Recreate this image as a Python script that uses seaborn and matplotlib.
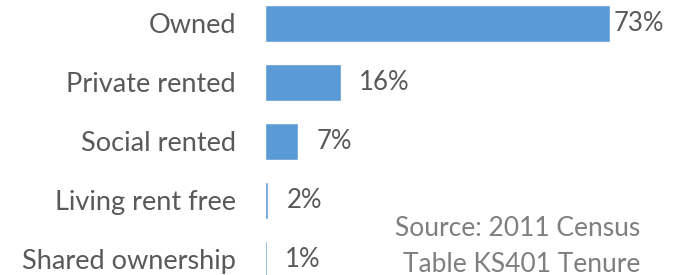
import numpy as np
import pandas as pd
import matplotlib.pyplot as plt
import seaborn as sns

# Tenure shares (bar lengths; labels as printed)
tenure = ["Owned", "Private rented", "Social rented", "Living rent free", "Shared ownership"]
share = [73, 16, 7, 0.7, 0.35]
share_labels = ["73%", "16%", "7%", "2%", "1%"]

df = pd.DataFrame({"tenure": tenure, "share": share})

sns.set_theme(style="white")
plt.rcParams["font.family"] = ["Lato", "DejaVu Sans"]

fig = plt.figure(figsize=(6.79, 2.75), dpi=100)
ax = fig.add_axes([265 / 679, 0, 378 / 679, 1])

sns.barplot(data=df, x="share", y="tenure", color="#5B9BD5", saturation=1,
            width=0.63, orient="h", ax=ax)

ax.set_xlim(0, 80)
ax.set_ylim(4.263, -0.398)
ax.set_xlabel("")
ax.set_ylabel("")
ax.set_xticks([])
ax.tick_params(axis="y", length=0, pad=21, labelsize=19.5, labelcolor="#595959")
for s in ax.spines.values():
    s.set_visible(False)

pads = [3, 13, 13, 13, 13]
for i, (v, lab) in enumerate(zip(share, share_labels)):
    ax.annotate(lab, (v, i), xytext=(pads[i], 0), textcoords="offset points",
                va="center", ha="left", fontsize=18.5, color="#595959")

fig.text(518 / 679, 1 - 228 / 275, "Source: 2011 Census", ha="center", va="center",
         fontsize=19, color="#7F7F7F")
fig.text(522 / 679, 1 - 265 / 275, "Table KS401 Tenure", ha="center", va="center",
         fontsize=19, color="#7F7F7F")

fig.savefig("out.png", dpi=100)
